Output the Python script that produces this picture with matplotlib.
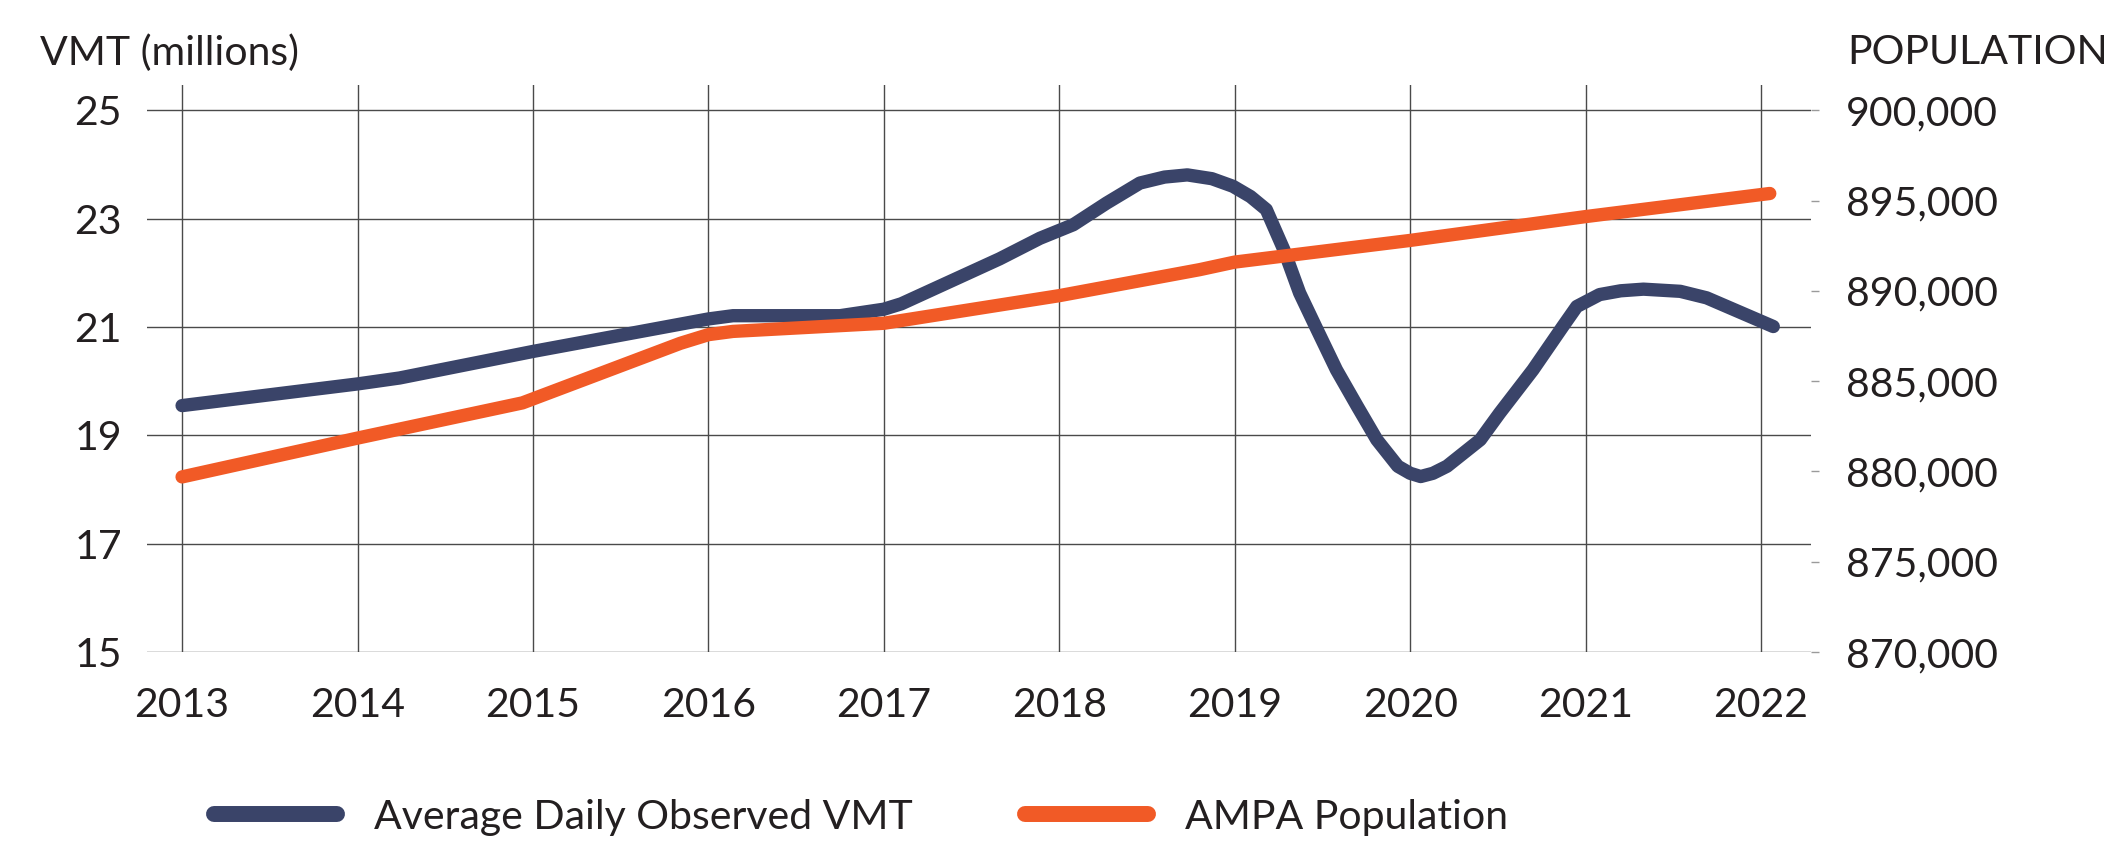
import matplotlib
matplotlib.use("Agg")
import matplotlib.pyplot as plt
from matplotlib.lines import Line2D
from matplotlib.ticker import FuncFormatter

plt.rcParams['font.family'] = ['Lato', 'DejaVu Sans']

# ---- data ----
years = [2013, 2014, 2015, 2016, 2017, 2018, 2019, 2020, 2021, 2022]

vmt_x = [2013.0, 2014.0, 2014.24, 2015.0, 2016.0, 2016.14, 2016.75, 2017.0, 2017.10,
         2017.66, 2017.89, 2018.08, 2018.27, 2018.46, 2018.60, 2018.73, 2018.87,
         2018.99, 2019.09, 2019.18, 2019.28, 2019.37, 2019.47, 2019.58, 2019.70,
         2019.81, 2019.93, 2020.00, 2020.06, 2020.13, 2020.21, 2020.40, 2020.51,
         2020.70, 2020.87, 2020.95, 2021.08, 2021.20, 2021.33, 2021.54, 2021.69,
         2022.07]
vmt_y = [19.55, 19.95, 20.06, 20.55, 21.15, 21.21, 21.21, 21.33, 21.43,
         22.26, 22.64, 22.89, 23.29, 23.66, 23.77, 23.81, 23.74,
         23.60, 23.41, 23.17, 22.43, 21.63, 20.95, 20.21, 19.53,
         18.92, 18.43, 18.30, 18.24, 18.30, 18.43, 18.92, 19.41,
         20.21, 21.01, 21.38, 21.60, 21.67, 21.70, 21.66, 21.54,
         21.01]

pop_x = [2013.0, 2014.0, 2014.94, 2015.84, 2016.0, 2016.14, 2017.0, 2018.0, 2018.8,
         2019.0, 2020.0, 2021.0, 2022.05]
pop_y = [879700, 881850, 883800, 887100, 887580, 887760, 888210, 889740, 891180,
         891600, 892800, 894120, 895400]

left_ticks = [15, 17, 19, 21, 23, 25]
right_ticks = [870000, 875000, 880000, 885000, 890000, 895000, 900000]

NAVY = '#3A4469'
ORANGE = '#F15A26'
TXT = '#231F20'
GRID = '#4a4a4a'
FS = 29.5

W, H = 2104, 842
fig = plt.figure(figsize=(W / 100, H / 100), dpi=100)
ax = fig.add_axes([147 / W, 1 - 652 / H, (1811 - 147) / W, (652 - 85) / H])
ax2 = ax.twinx()

ymin, ymax = 15, 25.47
ax.set_ylim(ymin, ymax)
ax2.set_ylim(870000, 870000 + (ymax - ymin) * 3000)
ax.set_xlim(2012.80, 2022.285)

for a in (ax, ax2):
    for s in a.spines.values():
        s.set_visible(False)

ax.set_xticks(years)
ax.set_xticklabels([str(y) for y in years])
ax.set_yticks(left_ticks)
ax.tick_params(axis='x', length=0, pad=25, labelsize=FS, labelcolor=TXT)
ax.tick_params(axis='y', length=0, pad=18, labelsize=FS, labelcolor=TXT)
ax.grid(True, color=GRID, linewidth=1.0)
ax.set_axisbelow(True)

ax2.set_yticks(right_ticks)
ax2.yaxis.set_major_formatter(FuncFormatter(lambda v, p: f"{int(v):,}"))
ax2.tick_params(axis='y', length=6, width=1, color='#9a9a9a', pad=19,
                labelsize=FS, labelcolor=TXT)

ax.plot(vmt_x, vmt_y, color=NAVY, lw=9.6, solid_capstyle='round',
        solid_joinstyle='round', clip_on=False)
ax2.plot(pop_x, pop_y, color=ORANGE, lw=9.6, solid_capstyle='round',
         solid_joinstyle='round', clip_on=False)

fig.text(40 / W, 1 - 53 / H, 'VMT (millions)', fontsize=FS, color=TXT,
         ha='left', va='center')
fig.text(1847 / W, 1 - 53 / H, 'POPULATION', fontsize=FS, color=TXT,
         ha='left', va='center')

handles = [Line2D([], [], color=NAVY, lw=11.5, solid_capstyle='round'),
           Line2D([], [], color=ORANGE, lw=11.5, solid_capstyle='round')]
fig.legend(handles, ['Average Daily Observed VMT', 'AMPA Population'],
           loc='center left', bbox_to_anchor=(214 / W, 1 - 817 / H), ncol=2,
           frameon=False, fontsize=FS, handlelength=3.0, handletextpad=0.9,
           columnspacing=2.75, borderpad=0, borderaxespad=0, labelcolor=TXT)

fig.savefig('out.png', dpi=100, facecolor='white')
